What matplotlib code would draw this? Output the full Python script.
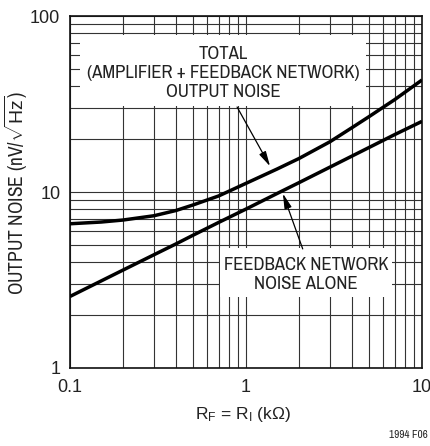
import matplotlib
matplotlib.use("Agg")
import matplotlib.pyplot as plt
from matplotlib.ticker import LogLocator, NullFormatter, FixedLocator, FixedFormatter
from matplotlib.patches import Rectangle

NARROW = ['Archivo Narrow', 'PT Sans Narrow', 'DejaVu Sans']
REG = ['Liberation Sans', 'DejaVu Sans']
plt.rcParams['font.family'] = NARROW
plt.rcParams['mathtext.fontset'] = 'custom'
plt.rcParams['mathtext.rm'] = 'Liberation Sans'
plt.rcParams['mathtext.it'] = 'Liberation Sans:italic'
plt.rcParams['mathtext.bf'] = 'Liberation Sans:bold'

# Data
r_kohm = [0.1, 0.15, 0.2, 0.3, 0.4, 0.5, 0.7, 1, 1.5, 2, 3, 4, 5, 7, 10]
total_noise = [6.6, 6.75, 6.93, 7.33, 7.85, 8.44, 9.5, 11.2, 13.5, 15.5, 19.3, 23.2, 26.8, 33.5, 43.3]
feedback_noise = [2.55, 3.12, 3.6, 4.4, 5.07, 5.68, 6.72, 8.0, 9.8, 11.3, 13.85, 16.0, 17.9, 21.2, 25.2]
x_ticks = [0.1, 1, 10]
x_tick_labels = ['0.1', '1', '10']
y_ticks = [1, 10, 100]
y_tick_labels = ['1', '10', '100']

W, H = 431, 446
fig = plt.figure(figsize=(W / 100, H / 100), dpi=100)
ax = fig.add_axes([70 / W, 78 / H, 352 / W, 352 / H])
ax.set_xscale('log')
ax.set_yscale('log')
ax.set_xlim(0.1, 10)
ax.set_ylim(1, 100)

ax.xaxis.set_major_locator(FixedLocator(x_ticks))
ax.xaxis.set_major_formatter(FixedFormatter(x_tick_labels))
ax.yaxis.set_major_locator(FixedLocator(y_ticks))
ax.yaxis.set_major_formatter(FixedFormatter(y_tick_labels))
ax.xaxis.set_minor_locator(LogLocator(base=10, subs=range(2, 10)))
ax.yaxis.set_minor_locator(LogLocator(base=10, subs=range(2, 10)))
ax.xaxis.set_minor_formatter(NullFormatter())
ax.yaxis.set_minor_formatter(NullFormatter())
ax.tick_params(which='both', length=0)
ax.tick_params(axis='x', pad=8, labelsize=13, labelcolor='#222222')
ax.tick_params(axis='y', pad=7, labelsize=13, labelcolor='#222222')
for lab in ax.get_xticklabels() + ax.get_yticklabels():
    lab.set_family(REG)
ax.grid(which='both', color='#333333', linewidth=0.8)
ax.set_axisbelow(True)
for s in ax.spines.values():
    s.set_linewidth(1.2)
    s.set_color('#111111')

ax.plot(r_kohm, total_noise, color='black', linewidth=2.5, solid_capstyle='butt', zorder=3)
ax.plot(r_kohm, feedback_noise, color='black', linewidth=2.5, solid_capstyle='butt', zorder=3)

# White label boxes
ax.add_patch(Rectangle((0.028, 0.744), 0.813, 0.202, transform=ax.transAxes,
                       facecolor='white', edgecolor='none', zorder=2))
ax.add_patch(Rectangle((0.426, 0.202), 0.489, 0.139, transform=ax.transAxes,
                       facecolor='white', edgecolor='none', zorder=2))

ax.text(0.435, 0.838, 'TOTAL\n(AMPLIFIER + FEEDBACK NETWORK)\nOUTPUT NOISE',
        transform=ax.transAxes, ha='center', va='center', fontsize=13.5,
        linespacing=1.23, color='#222222', zorder=4)
ax.text(0.67, 0.266, 'FEEDBACK NETWORK\nNOISE ALONE',
        transform=ax.transAxes, ha='center', va='center', fontsize=13.5,
        linespacing=1.23, color='#222222', zorder=4)

arrow = dict(arrowstyle='-|>,head_length=0.9,head_width=0.22', color='black',
             linewidth=0.9, shrinkA=0, shrinkB=0)
ax.annotate('', xy=(1.37, 14.0), xytext=(0.89, 30.4), arrowprops=arrow, zorder=4)
ax.annotate('', xy=(1.62, 9.8), xytext=(2.1, 4.75), arrowprops=arrow, zorder=4)

fig.text(243 / W, 1 - 415 / H, r'R$_{\mathrm{F}}$ = R$_{\mathrm{I}}$ (k$\Omega$)',
         ha='center', va='center', fontsize=12.5, color='#222222', family=REG)
fig.text(16 / W, 1 - 193 / H, r'OUTPUT NOISE (nV/$\sqrt{\mathrm{Hz}}$)', rotation=90,
         ha='center', va='center', fontsize=14, color='#222222')

fig.text(428 / W, 1 - 435 / H, '1994 F06', ha='right', va='center', fontsize=8,
         color='#222222')

fig.savefig('out.png', dpi=100)
